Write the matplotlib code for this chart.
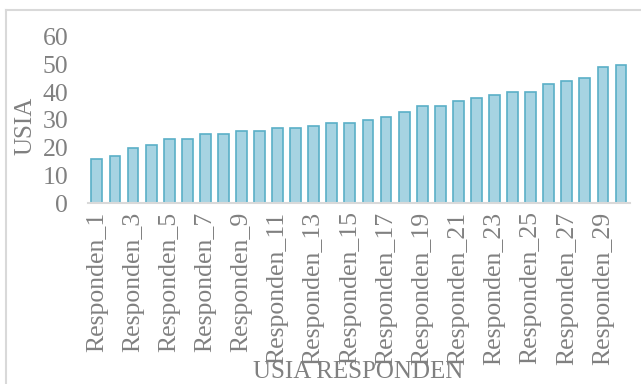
import matplotlib.pyplot as plt
from matplotlib.lines import Line2D

responden = [f"Responden_{i}" for i in range(1, 31)]
usia = [16, 17, 20, 21, 23, 23, 25, 25, 26, 26, 27, 27, 28, 29, 29,
        30, 31, 33, 35, 35, 37, 38, 39, 40, 40, 43, 44, 45, 49, 50]
y_ticks = [0, 10, 20, 30, 40, 50, 60]

plt.rcParams['font.family'] = ['Liberation Serif', 'DejaVu Serif']
text_color = '#808080'

fig = plt.figure(figsize=(6.41, 3.84), dpi=100)
ax = fig.add_axes([0.137, 0.471, 0.846, 0.433])

x = list(range(len(responden)))
ax.bar(x, usia, width=0.6, color='#a6d3e2', edgecolor='#5aafc7', linewidth=1.2)

ax.set_xlim(-0.5, len(responden) - 0.5)
ax.set_ylim(0, 60)
ax.set_yticks(y_ticks)
ax.set_yticklabels([str(v) for v in y_ticks], fontsize=18.5, color=text_color)
ax.set_xticks(x[::2])
ax.set_xticklabels(responden[::2], rotation=90, fontsize=18.5, color=text_color)
ax.tick_params(axis='both', length=0)
ax.tick_params(axis='y', pad=14)
ax.tick_params(axis='x', pad=6)

for side in ['top', 'right', 'left']:
    ax.spines[side].set_visible(False)
ax.spines['bottom'].set_color('#d9d9d9')
ax.spines['bottom'].set_linewidth(1.5)

ax.set_ylabel('USIA', fontsize=18, color=text_color)
ax.yaxis.set_label_coords(-0.094, 0.464)
fig.text(0.558, 0.031, 'USIA RESPONDEN', ha='center', va='center',
         fontsize=18, color=text_color)

# chart frame: only its top and left edges fall inside the image
frame_left, frame_top = 0.0101, 0.975
fig.lines.append(Line2D([frame_left, 1.0], [frame_top, frame_top], transform=fig.transFigure,
                        color='#d9d9d9', linewidth=1.5))
fig.lines.append(Line2D([frame_left, frame_left], [0.0, frame_top], transform=fig.transFigure,
                        color='#d9d9d9', linewidth=1.5))

fig.savefig('out.png', dpi=100)
